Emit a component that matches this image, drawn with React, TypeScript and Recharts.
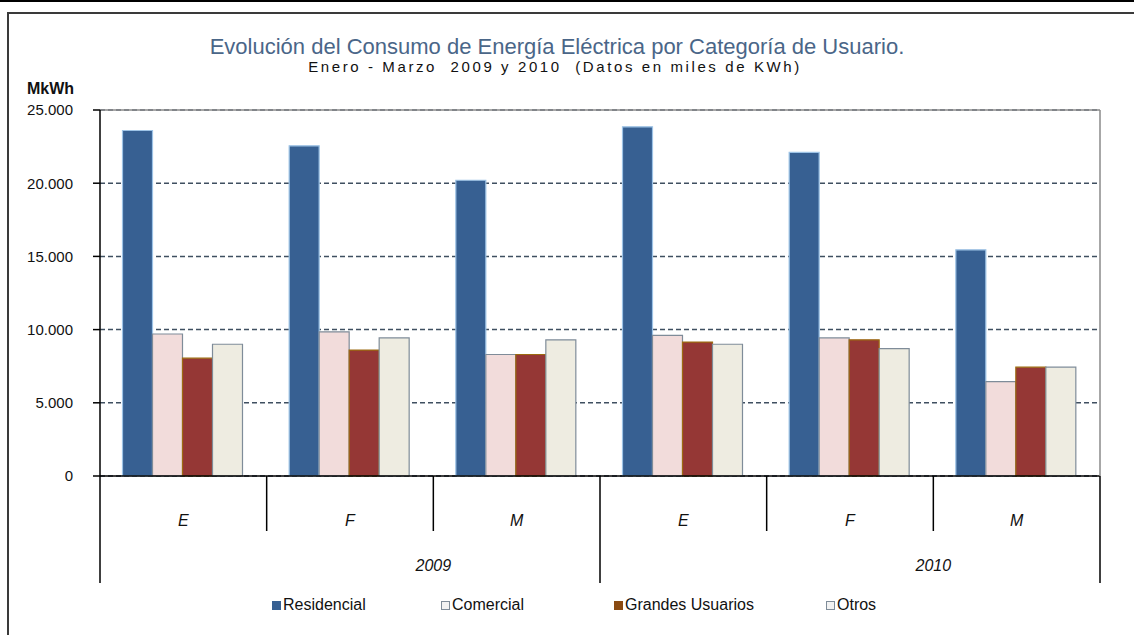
import React from "react"
import {
  BarChart,
  Bar,
  XAxis,
  YAxis,
  CartesianGrid,
} from "recharts"

// values in thousands of kWh
const months = ["E", "F", "M", "E", "F", "M"]
const years = ["2009", "2009", "2009", "2010", "2010", "2010"]
const residencial = [23600, 22550, 20200, 23850, 22100, 15450]
const comercial = [9700, 9850, 8300, 9600, 9430, 6450]
const grandesUsuarios = [8050, 8600, 8300, 9150, 9300, 7430]
const otros = [9000, 9430, 9300, 9000, 8700, 7430]
const yTicks = [0, 5000, 10000, 15000, 20000, 25000]

const SERIES = [
  { key: "residencial", name: "Residencial", fill: "#376092", stroke: "#9DC3E6", legend: "#376092", legendStroke: "#376092" },
  { key: "comercial", name: "Comercial", fill: "#F2DCDB", stroke: "#7F8C99", legend: "#F2F2F2", legendStroke: "#7F8C99" },
  { key: "grandes", name: "Grandes Usuarios", fill: "#953735", stroke: "#9C6A10", legend: "#8A4B12", legendStroke: "#8A4B12" },
  { key: "otros", name: "Otros", fill: "#EEECE1", stroke: "#7F8C99", legend: "#F2F2F2", legendStroke: "#7F8C99" },
]

const data = months.map((m, i) => ({
  key: `${years[i]}-${m}-${i}`,
  month: m,
  year: years[i],
  residencial: residencial[i],
  comercial: comercial[i],
  grandes: grandesUsuarios[i],
  otros: otros[i],
}))

const FONT = "Arial, 'Liberation Sans', sans-serif"
const CHART_W = 1134
const CHART_H = 635
const MARGIN = { top: 109, right: 33, left: 0, bottom: 52 }
const Y_AXIS_W = 100
const PLOT_W = 1000

function formatThousands(v: number): string {
  return String(v).replace(/\B(?=(\d{3})+(?!\d))/g, ".")
}

function MonthTick(props: any) {
  const { x, y, payload } = props
  const i: number = payload.index
  const half: number = payload.offset || PLOT_W / data.length / 2
  const left = x - half
  const longSep = i % 3 === 0
  return (
    <g>
      <line x1={left} y1={y} x2={left} y2={y + (longSep ? 107 : 55)} stroke="#000" strokeWidth={1.5} />
      {i === data.length - 1 && (
        <line x1={x + half} y1={y} x2={x + half} y2={y + 107} stroke="#000" strokeWidth={1.5} />
      )}
      <text x={x} y={y + 50} textAnchor="middle" fontSize={16} fontStyle="italic" fill="#111" fontFamily={FONT}>
        {data[i].month}
      </text>
      {i % 3 === 1 && (
        <text x={x + half} y={y + 95} textAnchor="middle" fontSize={16} fontStyle="italic" fill="#111" fontFamily={FONT}>
          {data[i].year}
        </text>
      )}
    </g>
  )
}

function LegendRow() {
  const lefts = [272, 441, 614, 826]
  return (
    <div style={{ position: "absolute", top: 596, left: 0, width: CHART_W, height: 20 }}>
      {SERIES.map((s, i) => (
        <div
          key={s.key}
          style={{
            position: "absolute",
            left: lefts[i],
            top: 0,
            display: "flex",
            alignItems: "center",
            fontSize: 16,
            fontFamily: FONT,
            color: "#111",
          }}
        >
          <span
            style={{
              display: "inline-block",
              width: 7,
              height: 7,
              background: s.legend,
              border: `1px solid ${s.legendStroke}`,
              marginRight: 2,
            }}
          />
          {s.name}
        </div>
      ))}
    </div>
  )
}

export default function App() {
  return (
    <div style={{ position: "absolute", left: 0, top: 0, width: CHART_W, height: CHART_H, background: "#fff", overflow: "hidden" }}>
      <div style={{ position: "absolute", left: 0, top: 0, width: CHART_W, height: 2, background: "#000" }} />
      <div
        style={{
          position: "absolute",
          left: 7,
          top: 12,
          width: CHART_W,
          height: CHART_H,
          borderLeft: "2px solid #3a3a3a",
          borderTop: "2px solid #3a3a3a",
        }}
      />
      <div
        style={{
          position: "absolute",
          left: 0,
          top: 34,
          width: 1114,
          textAlign: "center",
          fontFamily: FONT,
          fontSize: 22,
          lineHeight: "26px",
          color: "#4A6688",
          whiteSpace: "pre",
        }}
      >
        Evolución del Consumo de Energía Eléctrica por Categoría de Usuario.
      </div>
      <div
        style={{
          position: "absolute",
          left: 0,
          top: 58,
          width: 1110,
          textAlign: "center",
          fontFamily: FONT,
          fontSize: 15,
          lineHeight: "18px",
          letterSpacing: 2.6,
          color: "#111",
          whiteSpace: "pre",
        }}
      >
        {"Enero - Marzo  2009 y 2010  (Datos en miles de KWh)"}
      </div>
      <div
        style={{
          position: "absolute",
          left: 27,
          top: 79,
          fontFamily: FONT,
          fontSize: 16,
          lineHeight: "20px",
          fontWeight: "bold",
          color: "#111",
        }}
      >
        MkWh
      </div>

      <div style={{ position: "absolute", left: 0, top: 0 }}>
        <BarChart
          width={CHART_W}
          height={CHART_H}
          data={data}
          margin={MARGIN}
          barCategoryGap="13.5%"
          barGap={0}
        >
          <CartesianGrid
            xAxisId="main"
            yAxisId="left"
            vertical={false}
            stroke="#3F4F60"
            strokeDasharray="5 3"
            strokeWidth={1.5}
          />
          <XAxis
            xAxisId="top"
            orientation="top"
            dataKey="key"
            height={1}
            tick={false}
            tickLine={false}
            axisLine={{ stroke: "#8A8A8A", strokeWidth: 1.5 }}
          />
          <XAxis
            xAxisId="main"
            dataKey="key"
            height={107}
            tickLine={false}
            tickSize={0}
            tickMargin={0}
            interval={0}
            axisLine={{ stroke: "#000", strokeWidth: 1.5 }}
            tick={<MonthTick />}
          />
          <YAxis
            yAxisId="left"
            width={Y_AXIS_W}
            domain={[0, 25000]}
            ticks={yTicks}
            interval={0}
            tickSize={7}
            tickMargin={20}
            tickFormatter={formatThousands}
            tick={{ fontSize: 15, fill: "#111", fontFamily: FONT }}
            axisLine={{ stroke: "#000", strokeWidth: 1.5 }}
            tickLine={{ stroke: "#000", strokeWidth: 1.5 }}
          />
          <YAxis
            yAxisId="right"
            orientation="right"
            width={1}
            domain={[0, 25000]}
            tick={false}
            tickLine={false}
            axisLine={{ stroke: "#8A8A8A", strokeWidth: 1.5 }}
          />
          {SERIES.map((s) => (
            <Bar
              key={s.key}
              dataKey={s.key}
              name={s.name}
              xAxisId="main"
              yAxisId="left"
              fill={s.fill}
              stroke={s.stroke}
              strokeWidth={1.2}
              isAnimationActive={false}
            />
          ))}
        </BarChart>
      </div>
      <LegendRow />
    </div>
  )
}
